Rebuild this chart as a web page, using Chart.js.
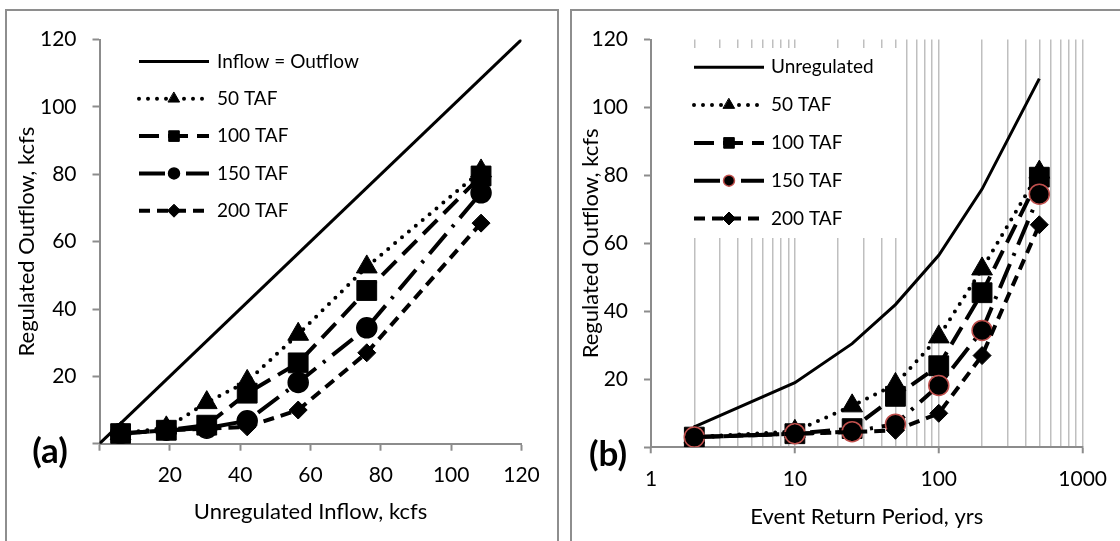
<!DOCTYPE html>
<html>
<head>
<meta charset="utf-8">
<script src="https://cdn.jsdelivr.net/npm/chart.js@4.4.0/dist/chart.umd.min.js"></script>
<style>
  html, body { margin: 0; padding: 0; background: #fff; overflow: hidden; }
  body { width: 1120px; height: 541px; position: relative; }
  .panel { position: absolute; top: 9px; height: 545px; border: 2px solid #8e8e8e; box-sizing: border-box; background: #fff; overflow: hidden; }
  #panelA { left: 5px; width: 554px; }
  #panelB { left: 570px; width: 560px; }
  .panel canvas { position: absolute; left: 0; top: 0; }
</style>
</head>
<body>
<div class="panel" id="panelA"><canvas id="chartA" width="550" height="532"></canvas></div>
<div class="panel" id="panelB"><canvas id="chartB" width="548" height="532"></canvas></div>
<script>
// data
const inflowKcfs = [6, 19, 30.5, 42, 56.5, 76, 108.5];        // unregulated inflow (panel a x axis)
const returnPeriodYrs = [2, 10, 25, 50, 100, 200, 500];     // panel b x axis
const unregulatedKcfs = [6, 19, 30.5, 42, 56.5, 76, 108.5];
const taf50 = [3, 4.7, 12.2, 18.5, 32.5, 52.5, 81];
const taf100 = [3, 4, 5.5, 15, 24, 45.5, 79.5];
const taf150 = [3, 4, 4.6, 6.8, 18.2, 34.4, 74.5];
const taf200 = [3, 4, 4.5, 5, 10, 27, 65.5];
const seriesNames = ["50 TAF", "100 TAF", "150 TAF", "200 TAF"];
const equalLineX = [0, 120];
const equalLineY = [0, 120];

// axis ticks
const linearTicks = [0, 20, 40, 60, 80, 100, 120];
const logGridYrs = [1, 2, 3, 4, 5, 6, 7, 8, 9, 10, 20, 30, 40, 50, 60, 70, 80, 90,
    100, 200, 300, 400, 500, 600, 700, 800, 900, 1000];
const logLabelYrs = [1, 10, 100, 1000];

const FONT = "Lato, 'Open Sans', sans-serif";
const AXIS_GREY = "#8c8c8c";
const TICK_SIZE = 21;
const TITLE_SIZE = 22;

// line / marker look of each regulated series
const seriesStyle = [
    { dash: [0, 9], cap: "round", point: "triangle", radius: 12, legendRadius: 6.5 },
    { dash: [20, 9], cap: "butt", point: "rect", radius: 14, legendRadius: 7.5 },
    { dash: [26, 9, 3, 9], cap: "butt", point: "circle", radius: 10, legendRadius: 5.5 },
    { dash: [11, 7], cap: "butt", point: "rectRot", radius: 9, legendRadius: 6.5 },
];

function pairUp(xs, ys) {
    return xs.map((x, i) => ({ x: x, y: ys[i] }));
}

function regulatedDatasets(xs, circleEdge) {
    const values = [taf50, taf100, taf150, taf200];
    return values.map((ys, i) => {
        const s = seriesStyle[i];
        return {
            label: seriesNames[i],
            data: pairUp(xs, ys),
            borderColor: "#000",
            backgroundColor: "#000",
            borderWidth: 4,
            borderDash: s.dash,
            borderCapStyle: s.cap,
            borderJoinStyle: "round",
            pointStyle: s.point,
            pointRadius: s.radius,
            pointBackgroundColor: "#000",
            pointBorderColor: s.point === "circle" ? circleEdge : "#000",
            pointBorderWidth: s.point === "circle" ? 1.5 : 1,
            legendRadius: s.legendRadius,
            tension: 0,
            fill: false,
            order: 4 - i, // later series drawn on top, like the original
        };
    });
}

// legend box drawn inside the plot (white box hides the grid)
const boxLegend = {
    id: "boxLegend",
    beforeDatasetsDraw(chart, args, opts) {
        const ctx = chart.ctx;
        ctx.save();
        ctx.fillStyle = "#fff";
        ctx.fillRect(opts.box[0], opts.box[1], opts.box[2], opts.box[3]);
        chart.data.datasets.forEach((ds, i) => {
            const y = opts.firstRow + i * opts.rowGap;
            ctx.beginPath();
            ctx.setLineDash(ds.borderDash || []);
            ctx.lineCap = ds.borderCapStyle || "butt";
            ctx.lineWidth = ds.borderWidth;
            ctx.strokeStyle = ds.borderColor;
            ctx.moveTo(opts.x0, y);
            ctx.lineTo(opts.x1, y);
            ctx.stroke();
            ctx.setLineDash([]);
            if (ds.pointRadius > 0) {
                ctx.fillStyle = ds.pointBackgroundColor;
                ctx.strokeStyle = ds.pointBorderColor;
                ctx.lineWidth = ds.pointBorderWidth;
                Chart.helpers.drawPoint(ctx, {
                    pointStyle: ds.pointStyle,
                    radius: ds.legendRadius,
                    borderWidth: ds.pointBorderWidth,
                    rotation: 0,
                }, (opts.x0 + opts.x1) / 2, y);
            }
            ctx.fillStyle = "#000";
            ctx.font = "19px " + FONT;
            ctx.textBaseline = "middle";
            ctx.textAlign = "left";
            ctx.fillText(ds.label, opts.textX, y);
        });
        ctx.restore();
    },
};

// the bold (a) / (b) tag
const panelTag = {
    id: "panelTag",
    afterDraw(chart, args, opts) {
        const ctx = chart.ctx;
        ctx.save();
        ctx.fillStyle = "#000";
        ctx.font = "bold 35px " + FONT;
        ctx.textAlign = "center";
        ctx.textBaseline = "middle";
        ctx.fillText(opts.text, opts.x, opts.y);
        ctx.restore();
    },
};

function yAxis(width, titlePad) {
    return {
        type: "linear",
        min: 0,
        max: 120,
        afterBuildTicks: (scale) => {
            scale.ticks = linearTicks.map((v) => ({ value: v }));
        },
        afterFit: (scale) => {
            scale.width = width;
        },
        ticks: {
            color: "#000",
            font: { family: FONT, size: TICK_SIZE },
            padding: 16,
            callback: (v) => (v === 0 ? "" : String(v)),
        },
        grid: { drawOnChartArea: false, drawTicks: true, tickLength: 7, tickColor: AXIS_GREY, tickWidth: 2 },
        border: { color: AXIS_GREY, width: 2 },
        title: {
            display: true,
            text: "Regulated Outflow, kcfs",
            color: "#000",
            font: { family: FONT, size: TITLE_SIZE },
            padding: { top: titlePad, bottom: 0 },
        },
    };
}

// ---- panel (a)
new Chart(document.getElementById("chartA"), {
    type: "line",
    data: {
        datasets: [
            {
                label: "Inflow = Outflow",
                data: pairUp(equalLineX, equalLineY),
                borderColor: "#000",
                borderWidth: 3,
                pointRadius: 0,
                tension: 0,
                fill: false,
                order: 5,
            },
        ].concat(regulatedDatasets(inflowKcfs, "#000")),
    },
    options: {
        responsive: false,
        animation: false,
        devicePixelRatio: 1,
        layout: { padding: { left: 0, top: 13.7, right: 35.5, bottom: 0 } },
        plugins: {
            legend: { display: false },
            tooltip: { enabled: false },
            boxLegend: { box: [128, 38, 245, 192], firstRow: 50.5, rowGap: 37.3, x0: 132, x1: 202, textX: 210 },
            panelTag: { text: "(a)", x: 43, y: 441 },
        },
        scales: {
            x: {
                type: "linear",
                min: 0,
                max: 120,
                afterBuildTicks: (scale) => {
                    scale.ticks = linearTicks.map((v) => ({ value: v }));
                },
                afterFit: (scale) => {
                    scale.height = 99.3;
                },
                ticks: {
                    color: "#000",
                    font: { family: FONT, size: TICK_SIZE },
                    padding: 12,
                    maxRotation: 0,
                    autoSkip: false,
                    callback: (v) => (v === 0 ? "" : String(v)),
                },
                grid: { drawOnChartArea: false, drawTicks: true, tickLength: 7, tickColor: AXIS_GREY, tickWidth: 2 },
                border: { color: AXIS_GREY, width: 2 },
                title: {
                    display: true,
                    text: "Unregulated Inflow, kcfs",
                    color: "#000",
                    font: { family: FONT, size: TITLE_SIZE },
                    padding: { top: 0, bottom: 18 },
                },
            },
            y: yAxis(92.5, 7),
        },
    },
    plugins: [boxLegend, panelTag],
});

// ---- panel (b)
new Chart(document.getElementById("chartB"), {
    type: "line",
    data: {
        datasets: [
            {
                label: "Unregulated",
                data: pairUp(returnPeriodYrs, unregulatedKcfs),
                borderColor: "#000",
                borderWidth: 3,
                pointRadius: 0,
                tension: 0,
                fill: false,
                order: 5,
            },
        ].concat(regulatedDatasets(returnPeriodYrs, "#c0504d")),
    },
    options: {
        responsive: false,
        animation: false,
        devicePixelRatio: 1,
        layout: { padding: { left: 0, top: 14.3, right: 32.3, bottom: 0 } },
        plugins: {
            legend: { display: false },
            tooltip: { enabled: false },
            boxLegend: { box: [115, 37, 218, 190], firstRow: 56.3, rowGap: 37.8, x0: 122, x1: 192, textX: 199 },
            panelTag: { text: "(b)", x: 36, y: 444 },
        },
        scales: {
            x: {
                type: "logarithmic",
                min: 1,
                max: 1000,
                afterBuildTicks: (scale) => {
                    scale.ticks = logGridYrs.map((v) => ({ value: v }));
                },
                afterFit: (scale) => {
                    scale.height = 95.7;
                },
                ticks: {
                    color: "#000",
                    font: { family: FONT, size: TICK_SIZE },
                    padding: 13,
                    maxRotation: 0,
                    autoSkip: false,
                    callback: (v) => (logLabelYrs.includes(v) ? String(v) : ""),
                },
                grid: {
                    color: "#bfbfbf",
                    lineWidth: 1.5,
                    drawTicks: true,
                    tickLength: 6,
                    tickWidth: 2,
                    tickColor: (c) => (c.tick && logLabelYrs.includes(c.tick.value) ? AXIS_GREY : "rgba(0,0,0,0)"),
                },
                border: { color: AXIS_GREY, width: 2 },
                title: {
                    display: true,
                    text: "Event Return Period, yrs",
                    color: "#000",
                    font: { family: FONT, size: TITLE_SIZE },
                    padding: { top: 0, bottom: 13 },
                },
            },
            y: yAxis(79, 5.4),
        },
    },
    plugins: [boxLegend, panelTag],
});
</script>
</body>
</html>
